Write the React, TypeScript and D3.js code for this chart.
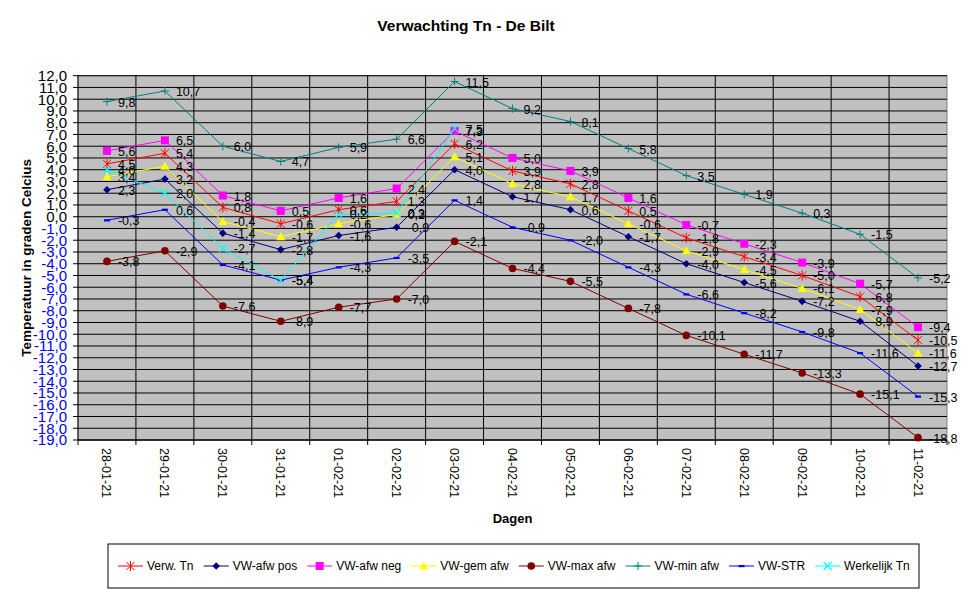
import React from "react";
import * as d3 from "d3";

const categories = ["28-01-21","29-01-21","30-01-21","31-01-21","01-02-21","02-02-21","03-02-21","04-02-21","05-02-21","06-02-21","07-02-21","08-02-21","09-02-21","10-02-21","11-02-21"];

const verwTn = [4.5, 5.4, 0.8, -0.6, 0.6, 1.3, 6.2, 3.9, 2.8, 0.5, -1.8, -3.4, -5.0, -6.8, -10.5];
const vwAfwPos = [2.3, 3.2, -1.4, -2.8, -1.6, -0.9, 4.0, 1.7, 0.6, -1.7, -4.0, -5.6, -7.2, -8.9, -12.7];
const vwAfwNeg = [5.6, 6.5, 1.8, 0.5, 1.6, 2.4, 7.3, 5.0, 3.9, 1.6, -0.7, -2.3, -3.9, -5.7, -9.4];
const vwGemAfw = [3.4, 4.3, -0.4, -1.7, -0.6, 0.2, 5.1, 2.8, 1.7, -0.6, -2.9, -4.5, -6.1, -7.9, -11.6];
const vwMaxAfw = [-3.8, -2.9, -7.6, -8.9, -7.7, -7.0, -2.1, -4.4, -5.5, -7.8, -10.1, -11.7, -13.3, -15.1, -18.8];
const vwMinAfw = [9.8, 10.7, 6.0, 4.7, 5.9, 6.6, 11.5, 9.2, 8.1, 5.8, 3.5, 1.9, 0.3, -1.5, -5.2];
const vwStr = [-0.3, 0.6, -4.1, -5.4, -4.3, -3.5, 1.4, -0.9, -2.0, -4.3, -6.6, -8.2, -9.8, -11.6, -15.3];
const werkelijkTn: (number | null)[] = [4.0, 2.0, -2.7, -5.4, 0.2, 0.3, 7.5, null, null, null, null, null, null, null, null];

const yTicks = d3.range(-19, 13, 1);

type Marker = "asterisk" | "diamond" | "square" | "triangle" | "circle" | "plus" | "dash" | "x";

const series: { name: string; values: (number | null)[]; color: string; marker: Marker }[] = [
  { name: "Verw. Tn", values: verwTn, color: "#FF0000", marker: "asterisk" },
  { name: "VW-afw pos", values: vwAfwPos, color: "#000080", marker: "diamond" },
  { name: "VW-afw neg", values: vwAfwNeg, color: "#FF00FF", marker: "square" },
  { name: "VW-gem afw", values: vwGemAfw, color: "#FFFF00", marker: "triangle" },
  { name: "VW-max afw", values: vwMaxAfw, color: "#800000", marker: "circle" },
  { name: "VW-min afw", values: vwMinAfw, color: "#008080", marker: "plus" },
  { name: "VW-STR", values: vwStr, color: "#0000FF", marker: "dash" },
  { name: "Werkelijk Tn", values: werkelijkTn, color: "#00FFFF", marker: "x" },
];

const FONT = "'Liberation Sans', Arial, Helvetica, sans-serif";
const fmt = (v: number) => v.toFixed(1).replace(".", ",");

function MarkerShape({ type, cx, cy, color }: { type: Marker; cx: number; cy: number; color: string }) {
  const r = 4;
  switch (type) {
    case "asterisk":
      return (
        <g stroke={color} strokeWidth={1}>
          <line x1={cx - r} y1={cy - r} x2={cx + r} y2={cy + r} />
          <line x1={cx - r} y1={cy + r} x2={cx + r} y2={cy - r} />
          <line x1={cx} y1={cy - r - 1} x2={cx} y2={cy + r + 1} />
        </g>
      );
    case "x":
      return (
        <g stroke={color} strokeWidth={1.2}>
          <line x1={cx - r} y1={cy - r} x2={cx + r} y2={cy + r} />
          <line x1={cx - r} y1={cy + r} x2={cx + r} y2={cy - r} />
        </g>
      );
    case "plus":
      return (
        <g stroke={color} strokeWidth={1}>
          <line x1={cx - r} y1={cy} x2={cx + r} y2={cy} />
          <line x1={cx} y1={cy - r} x2={cx} y2={cy + r} />
        </g>
      );
    case "diamond":
      return <path d={`M${cx},${cy - 3.8}L${cx + 3.8},${cy}L${cx},${cy + 3.8}L${cx - 3.8},${cy}Z`} fill={color} />;
    case "square":
      return <rect x={cx - 4} y={cy - 4} width={8} height={8} fill={color} />;
    case "triangle":
      return <path d={`M${cx},${cy - 4.5}L${cx + 4.5},${cy + 3.5}L${cx - 4.5},${cy + 3.5}Z`} fill={color} />;
    case "circle":
      return <circle cx={cx} cy={cy} r={3.8} fill={color} />;
    case "dash":
      return <rect x={cx - 3} y={cy - 1} width={6} height={2.2} fill={color} />;
  }
  return null;
}

function measure(text: string, font: string): number {
  if (typeof document === "undefined") return text.length * 6.5;
  const c = document.createElement("canvas");
  const ctx = c.getContext("2d");
  if (!ctx) return text.length * 6.5;
  ctx.font = font;
  return ctx.measureText(text).width;
}

export default function App() {
  const W = 975, H = 598;
  const left = 78, right = 947, top = 75.7, bottom = 440;
  const x = d3.scaleBand<string>().domain(categories).range([left, right]);
  const y = d3.scaleLinear().domain([-19, 12]).range([bottom, top]);
  const cx = (c: string) => (x(c) as number) + x.bandwidth() / 2;

  const line = d3
    .line<number | null>()
    .defined((d) => d != null)
    .x((_, i) => cx(categories[i]))
    .y((d) => y(d as number));

  const legFont = `12px ${FONT}`;
  const legendX = 108, legendY = 544, legendW = 811, legendH = 44;
  let cursor = legendX + 10;
  const legendItems = series.map((s) => {
    const item = { ...s, x: cursor };
    cursor += 25 + 4 + measure(s.name, legFont) + 10;
    return item;
  });

  return (
    <svg width={W} height={H} style={{ position: "absolute", left: 0, top: 0, background: "#fff" }} fontFamily={FONT}>
      <rect x={0} y={0} width={W} height={H} fill="#fff" />
      <text x={466} y={31} textAnchor="middle" fontSize={15.5} fontWeight="bold">
        Verwachting Tn - De Bilt
      </text>

      <rect x={left} y={top} width={right - left} height={bottom - top} fill="#C0C0C0" stroke="#808080" strokeWidth={1} />

      {yTicks.map((t) => (
        <line key={`h${t}`} x1={left} x2={right} y1={y(t)} y2={y(t)} stroke="#000" strokeWidth={1} />
      ))}
      {categories.slice(1).map((c) => (
        <line key={`v${c}`} x1={x(c) as number} x2={x(c) as number} y1={top} y2={bottom} stroke="#000" strokeWidth={1} />
      ))}

      <line x1={left} x2={left} y1={top} y2={bottom} stroke="#000" />
      <line x1={left} x2={right} y1={bottom} y2={bottom} stroke="#000" />
      {yTicks.map((t) => (
        <g key={`yt${t}`}>
          <line x1={left - 5} x2={left} y1={y(t)} y2={y(t)} stroke="#000" />
          <text x={67} y={y(t)} dy="0.36em" textAnchor="end" fontSize={15} fill={t < 0 ? "#0000FF" : "#000"}>
            {fmt(t)}
          </text>
        </g>
      ))}
      {categories.map((c) => (
        <line key={`xt${c}`} x1={x(c) as number} x2={x(c) as number} y1={bottom} y2={bottom + 5} stroke="#000" />
      ))}
      <line x1={right} x2={right} y1={bottom} y2={bottom + 5} stroke="#000" />
      {categories.map((c) => (
        <text key={`xl${c}`} transform={`translate(${cx(c)},${448}) rotate(90)`} dy="0.36em" fontSize={12.5}>
          {c}
        </text>
      ))}

      <text x={(left + right) / 2} y={523} textAnchor="middle" fontSize={13} fontWeight="bold">
        Dagen
      </text>
      <text transform={`translate(31,${(top + bottom) / 2}) rotate(-90)`} textAnchor="middle" fontSize={13.5} fontWeight="bold">
        Temperatuur in graden Celcius
      </text>

      {series.map((s) => (
        <g key={s.name}>
          <path d={line(s.values) || ""} fill="none" stroke={s.color} strokeWidth={1} />
          {s.values.map((v, i) =>
            v == null ? null : <MarkerShape key={i} type={s.marker} cx={cx(categories[i])} cy={y(v)} color={s.color} />
          )}
        </g>
      ))}

      {series.map((s) => (
        <g key={`lab${s.name}`}>
          {s.values.map((v, i) =>
            v == null ? null : (
              <text key={i} x={cx(categories[i]) + 11} y={y(v)} dy="0.4em" fontSize={12.5} fill="#000">
                {fmt(v)}
              </text>
            )
          )}
        </g>
      ))}

      <rect x={legendX} y={legendY} width={legendW} height={legendH} fill="#fff" stroke="#000" strokeWidth={1} />
      {legendItems.map((it) => {
        const ly = legendY + legendH / 2;
        return (
          <g key={`leg${it.name}`}>
            <line x1={it.x} x2={it.x + 25} y1={ly} y2={ly} stroke={it.color} strokeWidth={1} />
            <MarkerShape type={it.marker} cx={it.x + 12.5} cy={ly} color={it.color} />
            <text x={it.x + 29} y={ly} dy="0.36em" fontSize={12}>
              {it.name}
            </text>
          </g>
        );
      })}
    </svg>
  );
}
